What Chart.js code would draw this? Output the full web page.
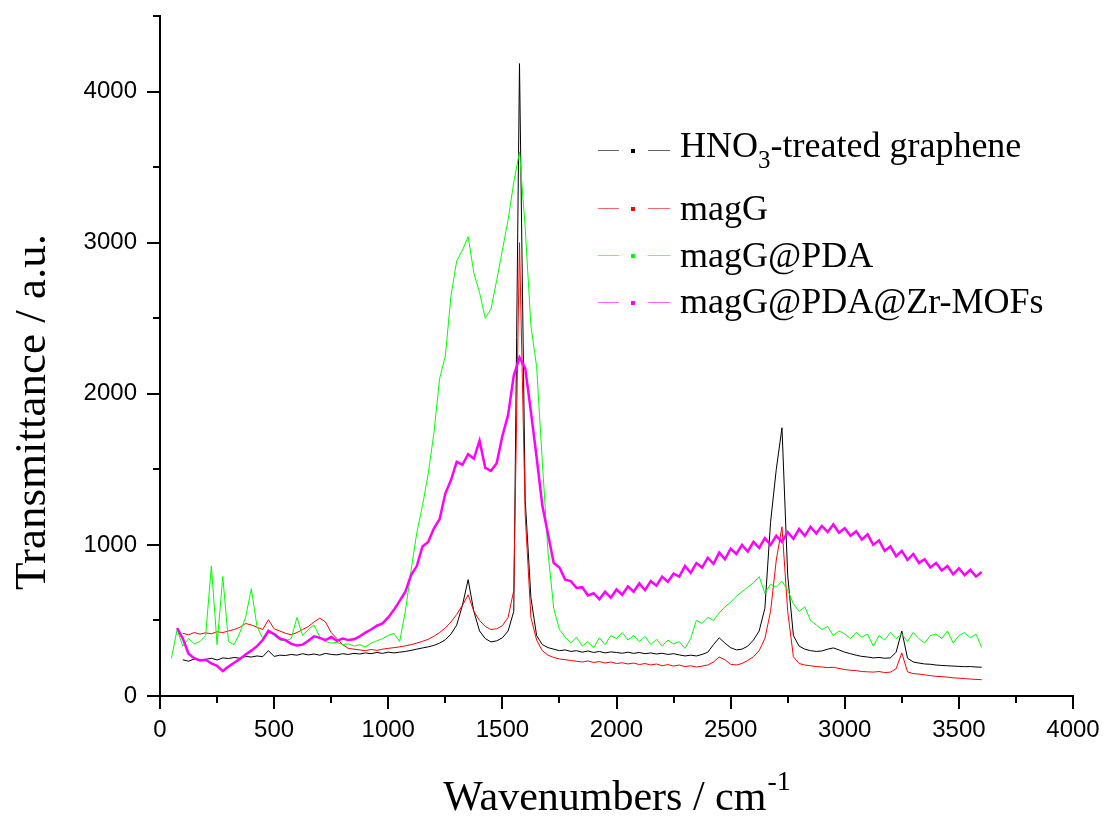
<!DOCTYPE html>
<html lang="en">
<head>
    <meta charset="UTF-8">
    <title>Raman spectra</title>
    <script src="https://cdn.jsdelivr.net/npm/chart.js"></script>
    <style>
        html, body { margin: 0; padding: 0; background: #fff; }
        #wrap { width: 1107px; height: 819px; }
    </style>
</head>
<body>
    <div id="wrap"><canvas id="ramanChart" width="1107" height="819"></canvas></div>

    <script>
        // wavenumbers (cm-1), one row = 250 cm-1
        const wavenumbers = [
            50, 75, 100, 125, 150, 175, 200, 225, 250, 275,
            300, 325, 350, 375, 400, 425, 450, 475, 500, 525,
            550, 575, 600, 625, 650, 675, 700, 725, 750, 775,
            800, 825, 850, 875, 900, 925, 950, 975, 1000, 1025,
            1050, 1075, 1100, 1125, 1150, 1175, 1200, 1225, 1250, 1275,
            1300, 1325, 1350, 1375, 1400, 1425, 1450, 1475, 1500, 1525,
            1550, 1575, 1600, 1625, 1650, 1675, 1700, 1725, 1750, 1775,
            1800, 1825, 1850, 1875, 1900, 1925, 1950, 1975, 2000, 2025,
            2050, 2075, 2100, 2125, 2150, 2175, 2200, 2225, 2250, 2275,
            2300, 2325, 2350, 2375, 2400, 2425, 2450, 2475, 2500, 2525,
            2550, 2575, 2600, 2625, 2650, 2675, 2700, 2725, 2750, 2775,
            2800, 2825, 2850, 2875, 2900, 2925, 2950, 2975, 3000, 3025,
            3050, 3075, 3100, 3125, 3150, 3175, 3200, 3225, 3250, 3275,
            3300, 3325, 3350, 3375, 3400, 3425, 3450, 3475, 3500, 3525,
            3550, 3575, 3600
        ];

        const hno3Graphene = [
            null, null, 240, 230, 245, 235, 242, 250, 238, 252,
            248, 255, 250, 262, 258, 265, 260, 300, 262, 270,
            268, 275, 270, 280, 272, 278, 270, 282, 275, 272,
            280, 275, 282, 278, 285, 280, 288, 282, 290, 285,
            290, 295, 302, 310, 318, 325, 335, 350, 372, 410,
            470, 600, 770, 560, 430, 380, 358, 365, 385, 430,
            560, 4185, 1300, 650, 400, 340, 320, 310, 300, 305,
            295, 300, 290, 298, 288, 295, 285, 292, 288, 283,
            290, 282, 288, 280, 285, 278, 283, 275, 280, 272,
            265, 270, 265, 275, 290, 340, 385, 350, 320, 305,
            310, 330, 370, 430, 580, 1150, 1500, 1775, 800, 400,
            330, 310, 300, 295, 298, 310, 318, 305, 290, 280,
            270, 262, 258, 252, 255, 250, 252, 290, 430, 250,
            225, 218, 212, 210, 205, 202, 200, 198, 196, 194,
            195, 192, 190
        ];

        const magG = [
            null, null, 415, 405, 420, 410, 418, 412, 425, 420,
            430, 440, 455, 480, 470, 455, 440, 505, 445, 430,
            415, 405, 420, 440, 460, 490, 515, 490, 420, 380,
            340, 315, 310, 305, 300, 308, 302, 310, 315, 320,
            325, 332, 340, 350, 362, 375, 395, 420, 450, 490,
            540, 600, 670, 560, 500, 460, 440, 445, 465, 520,
            700, 3000, 1200, 520, 370, 300, 270, 255, 245, 240,
            235, 230, 225, 232, 222, 228, 218, 225, 215, 220,
            212, 218, 208, 215, 205, 212, 200, 208, 198, 205,
            195, 200, 192, 198, 205, 225, 258, 240, 210, 205,
            215, 235, 260, 300, 380, 560, 900, 1120, 560, 260,
            215, 205, 200, 195, 192, 188, 190, 182, 175, 170,
            168, 162, 160, 158, 162, 155, 158, 180, 285, 160,
            148, 145, 140, 135, 130, 128, 125, 120, 118, 115,
            112, 110, 108
        ];

        const magGPDA = [
            250, 440, 330, 380, 345, 360, 400, 860, 340, 790,
            360, 340, 420, 520, 710, 460, 380, 440, 400, 370,
            365, 380, 520, 400, 440, 470, 390, 360, 350, 355,
            340, 345, 330, 340, 325, 350, 365, 380, 400, 415,
            360, 560, 830, 1080, 1260, 1470, 1740, 2100, 2250, 2650,
            2880, 2950, 3040, 2800, 2670, 2500, 2560, 2750, 2950, 3150,
            3400, 3600, 3100, 2450, 2180, 1550, 950, 580, 440, 390,
            350, 390, 330, 360, 320, 385, 340, 400, 380, 420,
            370, 400, 360, 395, 340, 375, 330, 370, 345, 360,
            315, 380, 500, 480, 520, 500, 550, 590, 620, 660,
            690, 720, 750, 790, 680, 740, 720, 760, 700, 610,
            560, 590, 500, 470, 440, 460, 400, 430, 410, 380,
            420, 390, 410, 330, 400, 370, 420, 380, 410, 360,
            420, 380, 350, 400, 410, 380, 430, 350, 400, 420,
            385, 410, 320
        ];

        const magGPDAZrMOFs = [
            null, 450, 380, 280, 250, 235, 240, 215, 200, 165,
            195, 220, 245, 275, 300, 330, 370, 430, 410, 380,
            370, 345, 335, 340, 365, 395, 385, 370, 390, 365,
            380, 370, 375, 395, 420, 440, 465, 480, 520, 570,
            630, 690, 800, 860, 990, 1020, 1110, 1170, 1340, 1430,
            1550, 1530, 1600, 1570, 1690, 1510, 1490, 1540, 1720, 1860,
            2120, 2240, 2170, 1880, 1580, 1260, 1070, 880, 850, 770,
            760, 715, 720, 665, 680, 640, 690, 650, 705, 670,
            725, 690, 745, 700, 760, 730, 790, 755, 810, 790,
            860, 815, 880, 850, 915, 875, 950, 905, 975, 940,
            1000, 955, 1020, 980, 1045, 1000, 1060, 1020, 1085, 1040,
            1105, 1060, 1120, 1075, 1125, 1085, 1135, 1080, 1110, 1060,
            1090, 1035, 1070, 1000, 1030, 960, 990, 925, 960, 900,
            940, 880, 905, 850, 880, 830, 860, 805, 845, 800,
            835, 790, 820
        ];

        const seriesNames = ['HNO3-treated graphene', 'magG', 'magG@PDA', 'magG@PDA@Zr-MOFs'];
        const seriesValues = [hno3Graphene, magG, magGPDA, magGPDAZrMOFs];
        const seriesColors = ['#000000', '#ff0000', '#00ff00', '#ff00ff'];

        const xMajorTicks = [0, 500, 1000, 1500, 2000, 2500, 3000, 3500, 4000];
        const xMinorTicks = [250, 750, 1250, 1750, 2250, 2750, 3250, 3750];
        const yMajorTicks = [0, 1000, 2000, 3000, 4000];
        const yMinorTicks = [500, 1500, 2500, 3500, 4500];

        const xTitle = 'Wavenumbers / cm';
        const xTitleSup = '-1';
        const yTitle = 'Transmittance / a.u.';

        const SERIF = '"Liberation Serif", "Times New Roman", serif';
        const SANS = '"Liberation Sans", Arial, sans-serif';

        // Origin-style ticks, axis titles and legend
        const decor = {
            id: 'decor',
            afterDraw(chart) {
                const { ctx, chartArea: area, scales: { x, y } } = chart;
                ctx.save();
                ctx.strokeStyle = '#000';
                ctx.lineWidth = 2;
                ctx.beginPath();
                xMajorTicks.forEach(v => { const p = Math.round(x.getPixelForValue(v)); ctx.moveTo(p, area.bottom); ctx.lineTo(p, area.bottom + 13); });
                xMinorTicks.forEach(v => { const p = Math.round(x.getPixelForValue(v)); ctx.moveTo(p, area.bottom); ctx.lineTo(p, area.bottom + 7); });
                yMajorTicks.forEach(v => { const p = Math.round(y.getPixelForValue(v)); ctx.moveTo(area.left, p); ctx.lineTo(area.left - 13, p); });
                yMinorTicks.forEach(v => { const p = Math.round(y.getPixelForValue(v)); ctx.moveTo(area.left, p); ctx.lineTo(area.left - 7, p); });
                ctx.stroke();

                ctx.fillStyle = '#000';
                ctx.textBaseline = 'alphabetic';

                // x title with superscript
                ctx.font = '42px ' + SERIF;
                const wMain = ctx.measureText(xTitle).width;
                ctx.font = '28px ' + SERIF;
                const wSup = ctx.measureText(xTitleSup).width;
                let tx = (area.left + area.right) / 2 - (wMain + wSup) / 2;
                ctx.textAlign = 'left';
                ctx.font = '42px ' + SERIF;
                ctx.fillText(xTitle, tx, 810);
                ctx.font = '28px ' + SERIF;
                ctx.fillText(xTitleSup, tx + wMain + 1, 790);

                // y title
                ctx.save();
                ctx.translate(45, 412);
                ctx.rotate(-Math.PI / 2);
                ctx.textAlign = 'center';
                ctx.font = '45px ' + SERIF;
                ctx.fillText(yTitle, 0, 0);
                ctx.restore();

                // legend
                const rows = [
                    { line: 150, base: 157 },
                    { line: 208, base: 220 },
                    { line: 255, base: 267 },
                    { line: 302, base: 313 }
                ];
                seriesNames.forEach((name, k) => {
                    const r = rows[k];
                    ctx.strokeStyle = seriesColors[k];
                    ctx.globalAlpha = 0.6;
                    ctx.lineWidth = 1;
                    ctx.beginPath();
                    ctx.moveTo(598, r.line + 0.5); ctx.lineTo(619, r.line + 0.5);
                    ctx.moveTo(648, r.line + 0.5); ctx.lineTo(670, r.line + 0.5);
                    ctx.stroke();
                    ctx.globalAlpha = 1;
                    ctx.fillStyle = seriesColors[k];
                    ctx.fillRect(631, r.line - 1, 4, 4);

                    ctx.fillStyle = '#000';
                    ctx.textAlign = 'left';
                    let cx = 680;
                    name.split(/(?<=[A-Z])(\d+)/).forEach((part, i) => {
                        if (!part) return;
                        const sub = i % 2 === 1;
                        ctx.font = (sub ? '25px ' : '36px ') + SERIF;
                        ctx.fillText(part, cx, sub ? r.base + 11 : r.base);
                        cx += ctx.measureText(part).width;
                    });
                });
                ctx.restore();
            }
        };

        const ctx = document.getElementById('ramanChart').getContext('2d');
        const chart = new Chart(ctx, {
            type: 'line',
            data: {
                datasets: seriesValues.map((vals, k) => ({
                    label: seriesNames[k],
                    data: wavenumbers.map((w, i) => ({ x: w, y: vals[i] })),
                    borderColor: seriesColors[k],
                    borderWidth: k === 3 ? 2.5 : 1,
                    pointRadius: 0,
                    tension: 0,
                    spanGaps: false,
                    order: 3 - k
                }))
            },
            options: {
                responsive: false,
                animation: false,
                devicePixelRatio: 1,
                layout: { padding: { top: 16, right: 34, bottom: 0, left: 0 } },
                plugins: {
                    legend: { display: false },
                    tooltip: { enabled: false }
                },
                scales: {
                    x: {
                        type: 'linear',
                        min: 0,
                        max: 4000,
                        afterBuildTicks: s => { s.ticks = xMajorTicks.map(v => ({ value: v })); },
                        afterFit: s => { s.height = 123; s.paddingLeft = 0; s.paddingRight = 0; },
                        grid: { display: false, drawTicks: false },
                        border: { display: true, color: '#000', width: 2 },
                        ticks: {
                            padding: 20,
                            color: '#000',
                            maxRotation: 0,
                            autoSkip: false,
                            font: { family: SANS, size: 24 },
                            callback: v => String(v)
                        }
                    },
                    y: {
                        min: 0,
                        max: 4500,
                        afterBuildTicks: s => { s.ticks = yMajorTicks.map(v => ({ value: v })); },
                        afterFit: s => { s.width = 160; s.paddingTop = 0; s.paddingBottom = 0; },
                        grid: { display: false, drawTicks: false },
                        border: { display: true, color: '#000', width: 2 },
                        ticks: {
                            padding: 23,
                            color: '#000',
                            font: { family: SANS, size: 24 },
                            callback: v => String(v)
                        }
                    }
                }
            },
            plugins: [decor]
        });
    </script>
</body>
</html>
